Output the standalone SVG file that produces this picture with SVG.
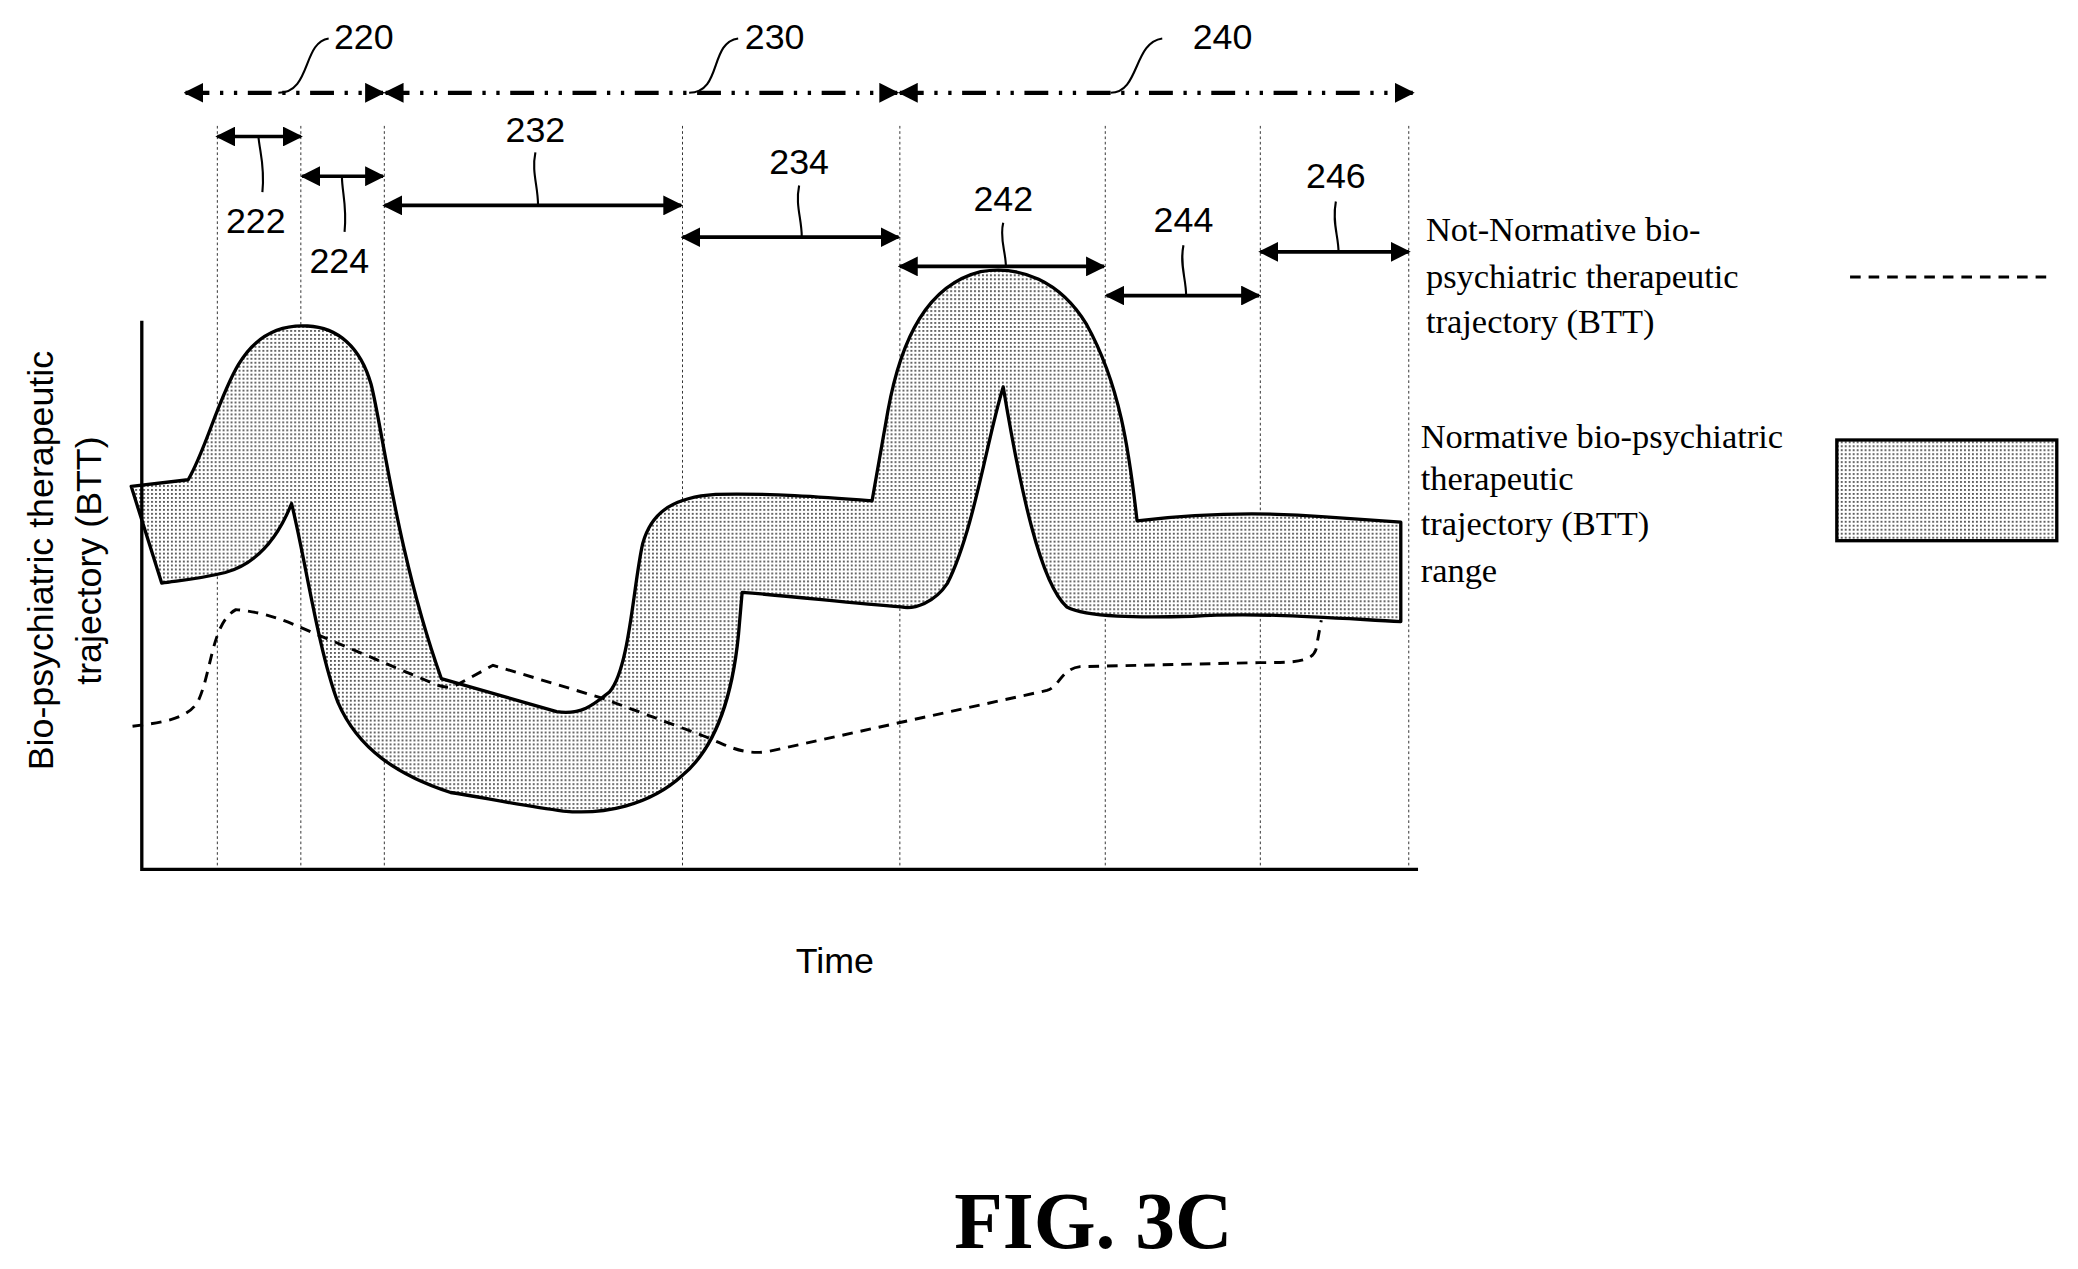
<svg xmlns="http://www.w3.org/2000/svg" width="2078" height="1269" viewBox="0 0 2078 1269">
<style>
.n{font-family:"Liberation Sans",Arial,sans-serif;font-size:27px;fill:#000}
.s{font-family:"Liberation Serif","Times New Roman",serif;font-size:26px;fill:#000}
.ax{font-family:"Liberation Sans",Arial,sans-serif;font-size:27px;fill:#000}
.grid{stroke:#000;stroke-width:0.6;stroke-dasharray:2,2;fill:none}
.arr{stroke:#000;stroke-width:2.8;fill:none;marker-start:url(#ah);marker-end:url(#ah)}
.big{stroke:#000;stroke-width:3.2;fill:none;stroke-dasharray:18,8,2.5,8,2.5,8;marker-start:url(#ah);marker-end:url(#ah)}
.lead{stroke:#000;stroke-width:1.6;fill:none}
.band{fill:url(#dots);stroke:#000;stroke-width:2.5;stroke-linejoin:round}
.dash{stroke:#000;stroke-width:2.2;fill:none;stroke-dasharray:8,6}
</style>
<defs>
<marker id="ah" viewBox="0 0 10 10" refX="9" refY="5" markerWidth="15" markerHeight="15" orient="auto-start-reverse" markerUnits="userSpaceOnUse"><path d="M0,0L10,5L0,10z" fill="#000"/></marker>
<pattern id="dots" width="3" height="3" patternUnits="userSpaceOnUse"><rect width="3" height="3" fill="#fff"/><rect width="1.4" height="1.4" fill="#555"/></pattern>
</defs>
<rect width="2078" height="1269" fill="#fff"/>
<g transform="scale(1.32526)">
<g id="grid">
<path class="grid" d="M164,95V656M227,95V656M290,95V656M515,95V656M679,95V656M834,95V656M951,95V656M1063,95V656"/>
</g>
<g id="band"><path class="band" d="M99,367 L142,362 C155,340 165,300 180,275 C195,250 215,245 232,246 C255,247 272,262 280,290 C288,320 300,420 333,512 L420,537 C440,540 450,530 460,522 C475,505 478,440 485,410 C492,385 510,375 540,373 C580,372 620,375 658,378 L670,310 C680,255 700,215 740,205 C770,200 800,212 820,245 C845,290 852,340 858,393 C900,388 950,386 1000,390 L1057,394 L1057,469 C1000,466 950,462 900,465 C860,466 820,466 805,458 C785,440 770,370 757,292 C745,330 735,400 715,440 C705,455 690,460 680,458 C640,455 600,450 560,447 L558,470 C555,510 545,560 515,585 C490,608 455,615 425,612 C395,608 365,602 340,598 C300,585 270,565 255,530 C240,490 230,420 220,380 C210,405 195,425 170,432 C150,437 135,438 122,440 Z"/></g>
<g id="axes"><path d="M107,242V656H1070" stroke="#000" stroke-width="2.5" fill="none"/></g>
<g id="btt"><path class="dash" d="M100,548 C125,545 143,542 150,528 C160,505 160,470 178,460 C200,462 215,468 235,477 L330,517 C338,520 343,518 348,515 L372,502 L455,527 L530,555 C550,563 560,570 580,567 L680,545 L790,521 C800,518 800,505 815,503 L950,500 C975,500 990,500 993,490 L997,468"/></g>
<g id="connectors">
<path class="big" d="M140,70H289"/>
<path class="big" d="M291,70H677"/>
<path class="big" d="M679,70H1066"/>
<path class="arr" d="M164,103H227"/>
<path class="arr" d="M228,133H289"/>
<path class="arr" d="M290,155H514"/>
<path class="arr" d="M515,179H678"/>
<path class="arr" d="M679,201H833"/>
<path class="arr" d="M835,223H950"/>
<path class="arr" d="M951,190H1063"/>
<path class="lead" d="M210,70C235,70 228,32 248,29"/>
<path class="lead" d="M520,70C545,70 535,32 557,29"/>
<path class="lead" d="M838,70C860,70 855,32 877,29"/>
<path class="lead" d="M195,103C196,115 200,125 198,145"/>
<path class="lead" d="M258,133C258,145 262,155 260,175"/>
<path class="lead" d="M406,155C406,140 401,130 404,115"/>
<path class="lead" d="M605,179C605,165 600,155 603,140"/>
<path class="lead" d="M759,201C759,190 754,180 757,168"/>
<path class="lead" d="M895,223C895,210 890,200 893,185"/>
<path class="lead" d="M1010,190C1010,178 1005,168 1008,152"/>
</g>
<g id="labels">
<text class="n" x="252" y="37">220</text>
<text class="n" x="562" y="37">230</text>
<text class="n" x="900" y="37">240</text>
<text class="n" x="193" y="176" text-anchor="middle">222</text>
<text class="n" x="256" y="206" text-anchor="middle">224</text>
<text class="n" x="404" y="107" text-anchor="middle">232</text>
<text class="n" x="603" y="131" text-anchor="middle">234</text>
<text class="n" x="757" y="159" text-anchor="middle">242</text>
<text class="n" x="893" y="175" text-anchor="middle">244</text>
<text class="n" x="1008" y="142" text-anchor="middle">246</text>
</g>
<g id="legend">
<text class="s" x="1076" y="182">Not-Normative bio-</text>
<text class="s" x="1076" y="217">psychiatric therapeutic</text>
<text class="s" x="1076" y="251">trajectory (BTT)</text>
<path class="dash" d="M1396,209H1545"/>
<text class="s" x="1072" y="338">Normative bio-psychiatric</text>
<text class="s" x="1072" y="370">therapeutic</text>
<text class="s" x="1072" y="404">trajectory (BTT)</text>
<text class="s" x="1072" y="439">range</text>
<rect x="1386" y="332" width="166" height="76" fill="url(#dots)" stroke="#000" stroke-width="2.5"/>
</g>
<g id="axis-labels">
<text class="ax" transform="translate(40,423) rotate(-90)" text-anchor="middle">Bio-psychiatric therapeutic</text>
<text class="ax" transform="translate(76,423) rotate(-90)" text-anchor="middle">trajectory (BTT)</text>
<text class="ax" x="630" y="734" text-anchor="middle">Time</text>
<text x="825" y="942" text-anchor="middle" style="font-family:'Liberation Serif',serif;font-weight:bold;font-size:60px">FIG. 3C</text>
</g>
</g>
</svg>
